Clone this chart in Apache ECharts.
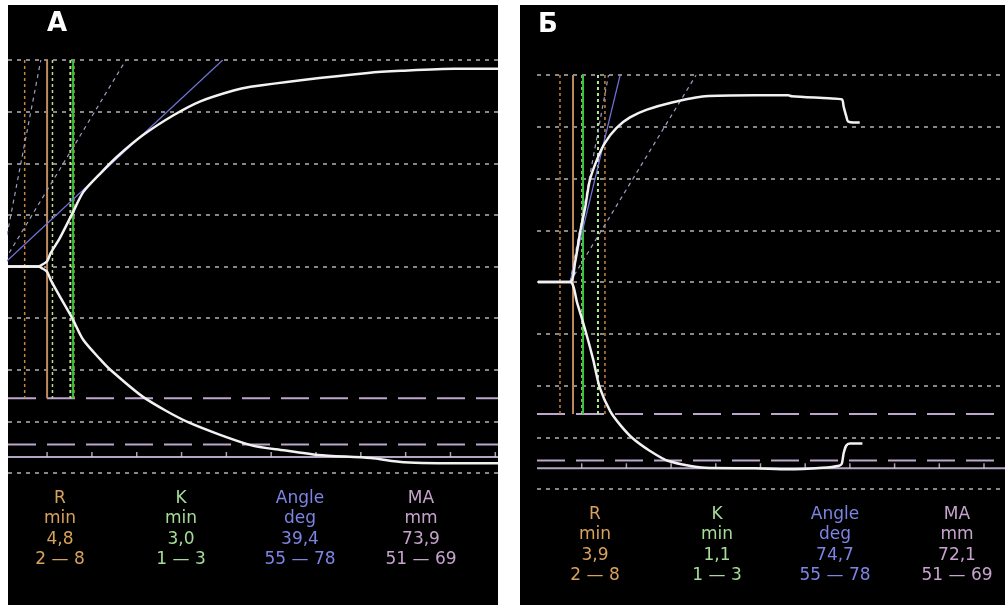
<!DOCTYPE html>
<html>
<head>
<meta charset="utf-8">
<title>TEG</title>
<script src="https://cdn.jsdelivr.net/npm/echarts@6/dist/echarts.min.js"></script>
<style>
html, body { margin: 0; padding: 0; background: #fff; }
#main { width: 1005px; height: 608px; }
</style>
</head>
<body>
<div id="main"></div>
<script>
// time in minutes, amplitude in mm from the centre line
var aUpperTime = [0.64, 4.0, 4.4, 5.0, 5.4, 6.45, 7.8, 9.03, 10.93, 12.83, 15.74, 19.1, 22.1, 25.8, 27.7, 33.3, 40.8, 44.5, 50.4, 55.3];
var aUpperAmp  = [0, 0, 0.3, 1.0, 2.6, 5.6, 10.2, 14.4, 18.0, 21.3, 25.5, 29.3, 32.0, 34.1, 34.8, 36.1, 37.5, 37.9, 38.3, 38.3];
var aLowerTime = [0.64, 4.0, 4.4, 5.0, 5.4, 6.45, 7.8, 9.03, 10.93, 12.05, 15.74, 20.66, 27.71, 31.4, 35.2, 41.1, 44.8, 52.0, 55.3];
var aLowerAmp  = [0, 0, 0.3, 1.0, 2.6, 5.9, 10.0, 14.2, 18.0, 20.0, 25.3, 30.1, 34.6, 35.6, 36.5, 37.1, 37.9, 38.1, 38.1];

var bUpperTime = [0.1, 3.7, 4.25, 4.8, 5.4, 5.9, 6.7, 7.6, 8.9, 10.4, 12.3, 15.1, 18.8, 24.4, 28.1, 28.5, 32.6, 34.1, 34.3, 34.6, 34.8, 35.6, 36.1];
var bUpperAmp  = [0, 0, 3.7, 9.4, 14.5, 19.6, 23.6, 26.9, 29.8, 31.8, 33.3, 34.7, 35.9, 36.1, 36.1, 35.9, 35.5, 35.3, 33.9, 32.0, 31.0, 30.8, 30.8];
var bLowerTime = [0.1, 3.7, 4.5, 5.5, 6.3, 7.0, 8.2, 9.3, 10.7, 12.6, 14.7, 18.8, 24.4, 28.1, 31.9, 33.8, 34.1, 34.3, 34.6, 35.0, 36.4];
var bLowerAmp  = [0, 0, 4.1, 9.9, 15.1, 20.3, 25.0, 27.6, 30.2, 32.6, 34.6, 35.9, 36.0, 36.2, 35.9, 35.5, 35.1, 33.1, 31.6, 31.2, 31.2];

// vertical marker lines (min)
var aRLine = 5.0,  aRRange = [2.5, 8.0],  aKLine = 7.9,  aKRange = [5.6, 7.6];
var bRLine = 4.03, bRRange = [2.57, 7.6], bKLine = 5.15, bKRange = [5.03, 6.82];

// angle lines: start point and the time where they reach the top (40 mm)
var aAngleStart = [-0.15, 0], aAngleEnds = [24.6, 13.8, 4.3];
var bAngleStart = [3.7, 0],   bAngleEnds = [9.3, 17.8, 8.0];

// MA lines (mm below centre)
var maRangeHalf = [25.5, 34.5];
var aMaHalf = 36.9, bMaHalf = 36.0;
var aTicks = [5, 10, 15, 20, 25, 30, 35, 40, 45, 50, 55];
var bTicks = [5, 10, 15, 20, 25, 30, 35, 40, 45, 50];

// bottom read-outs
var statNames  = ['R', 'K', 'Angle', 'MA'];
var statUnits  = ['min', 'min', 'deg', 'mm'];
var statRanges = ['2 — 8', '1 — 3', '55 — 78', '51 — 69'];
var aValues = ['4,8', '3,0', '39,4', '73,9'];
var bValues = ['3,9', '1,1', '74,7', '72,1'];
var statColors = ['#d9a25a', '#a6dc98', '#7d84e4', '#c6a3cc'];

var chart = echarts.init(document.getElementById('main'));

function zip(ts, vs, sign) {
    return ts.map(function (t, i) { return [t, sign * vs[i]]; });
}

function seg(idx, data, color, width, type, z) {
    return {
        type: 'line', xAxisIndex: idx, yAxisIndex: idx,
        data: data, symbol: 'none', silent: true, animation: false,
        lineStyle: { color: color, width: width, type: type },
        z: z
    };
}

function panelSeries(idx, up, low, rLine, rRange, kLine, kRange, aStart, aEnds, maHalf, ticks, xMin, xMax) {
    var s = [];
    var vTop = 40, vBot = -maRangeHalf[0];
    // MA lines
    s.push(seg(idx, [[xMin, -maRangeHalf[0]], [xMax, -maRangeHalf[0]]], '#bca6cc', 2, [28, 11], 3));
    s.push(seg(idx, [[xMin, -maRangeHalf[1]], [xMax, -maRangeHalf[1]]], '#bca6cc', 2, [28, 11], 3));
    s.push(seg(idx, [[xMin, -maHalf], [xMax, -maHalf]], '#b5a4c4', 2, 'solid', 3));
    // vertical markers
    s.push(seg(idx, [[rRange[0], vTop], [rRange[0], vBot]], '#c9843e', 1.5, [3, 3], 4));
    s.push(seg(idx, [[rRange[1], vTop], [rRange[1], vBot]], '#c9843e', 1.5, [3, 3], 4));
    s.push(seg(idx, [[rLine, vTop], [rLine, vBot]], '#c08a5c', 2, 'solid', 4));
    s.push(seg(idx, [[kRange[0], vTop], [kRange[0], vBot]], '#b8e08a', 1.5, [3, 3], 5));
    s.push(seg(idx, [[kRange[1], vTop], [kRange[1], vBot]], '#b8e890', 2, [3, 3], 5));
    s.push(seg(idx, [[kLine, vTop], [kLine, vBot]], '#3cc23c', 2, 'solid', 5));
    // angle lines
    s.push(seg(idx, [aStart, [aEnds[0], 40]], '#6f72d8', 1.2, 'solid', 6));
    s.push(seg(idx, [aStart, [aEnds[1], 40]], '#9c9cc4', 1.2, [4, 4], 6));
    s.push(seg(idx, [aStart, [aEnds[2], 40]], '#9c9cc4', 1.2, [4, 4], 6));
    // trace
    var tr1 = seg(idx, up, '#f2f2f2', 2.5, 'solid', 10);
    var tr2 = seg(idx, low, '#f2f2f2', 2.5, 'solid', 10);
    tr1.smooth = tr2.smooth = 0.25;
    s.push(tr1, tr2);
    // time ticks on the MA line
    s.push({
        type: 'scatter', xAxisIndex: idx, yAxisIndex: idx, silent: true, animation: false,
        symbol: 'rect', symbolSize: [1.5, 5], symbolOffset: [0, -2.5],
        itemStyle: { color: '#d6cce0' }, z: 7,
        data: ticks.map(function (t) { return [t, -maHalf]; })
    });
    return s;
}

var aX = [0.64, 55.3], bX = [0, 52.35];

var series = [].concat(
    panelSeries(0, zip(aUpperTime, aUpperAmp, 1), zip(aLowerTime, aLowerAmp, -1),
        aRLine, aRRange, aKLine, aKRange, aAngleStart, aAngleEnds, aMaHalf, aTicks, aX[0], aX[1]),
    panelSeries(1, zip(bUpperTime, bUpperAmp, 1), zip(bLowerTime, bLowerAmp, -1),
        bRLine, bRRange, bKLine, bKRange, bAngleStart, bAngleEnds, bMaHalf, bTicks, bX[0], bX[1])
);

function yAx(idx) {
    return {
        type: 'value', gridIndex: idx, min: -40, max: 40, interval: 10,
        axisLine: { show: false }, axisTick: { show: false }, axisLabel: { show: false },
        splitLine: { show: true, lineStyle: { color: '#b4b4b4', width: 1.5, type: [4, 5] } }
    };
}

var graphics = [
    { type: 'rect', shape: { x: 8, y: 5, width: 490, height: 600 }, style: { fill: '#000' }, z: -10 },
    { type: 'rect', shape: { x: 520, y: 5, width: 485, height: 600 }, style: { fill: '#000' }, z: -10 },
    { type: 'text', z: 20, style: { text: 'А', x: 57, y: 24, fill: '#fff', font: 'bold 26px "DejaVu Sans"', textAlign: 'center', textVerticalAlign: 'middle' } },
    { type: 'text', z: 20, style: { text: 'Б', x: 548, y: 25, fill: '#fff', font: 'bold 26px "DejaVu Sans"', textAlign: 'center', textVerticalAlign: 'middle' } }
];

function addStats(xs, y0, values) {
    for (var i = 0; i < statNames.length; i++) {
        var rows = [statNames[i], statUnits[i], values[i], statRanges[i]];
        for (var r = 0; r < rows.length; r++) {
            graphics.push({
                type: 'text', z: 20,
                style: {
                    text: rows[r], x: xs[i], y: y0 + r * 20.5, fill: statColors[i],
                    font: '17px "DejaVu Sans"', textAlign: 'center', textVerticalAlign: 'middle'
                }
            });
        }
    }
}
addStats([60, 181, 300, 421], 498.5, aValues);
addStats([595, 717, 835, 957], 514.5, bValues);

var option = {
    backgroundColor: '#ffffff',
    animation: false,
    grid: [
        { left: 8, top: 60, width: 490, height: 413 },
        { left: 537, top: 75, width: 468, height: 414 }
    ],
    xAxis: [
        { type: 'value', gridIndex: 0, min: aX[0], max: aX[1], show: false },
        { type: 'value', gridIndex: 1, min: bX[0], max: bX[1], show: false }
    ],
    yAxis: [yAx(0), yAx(1)],
    graphic: graphics,
    series: series
};
chart.setOption(option);
</script>
</body>
</html>
